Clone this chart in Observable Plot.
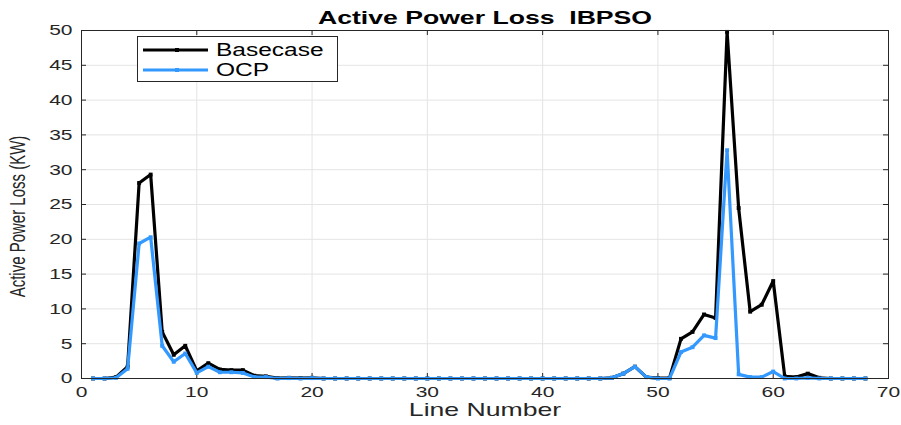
<!DOCTYPE html>
<html><head><meta charset="utf-8">
<script src="https://cdn.jsdelivr.net/npm/d3@7"></script>
<script src="https://cdn.jsdelivr.net/npm/@observablehq/plot@0.6"></script>
<style>
body{margin:0;background:#fff;}
#wrap{position:relative;width:901px;height:425px;font-family:"Liberation Sans",Arial,sans-serif;}
#legend{position:absolute;left:137px;top:36px;}
</style></head><body><div id="wrap"></div>
<script>
const lineNumber = [1,2,3,4,5,6,7,8,9,10,11,12,13,14,15,16,17,18,19,20,21,22,23,24,25,26,27,28,29,30,31,32,33,34,35,36,37,38,39,40,41,42,43,44,45,46,47,48,49,50,51,52,53,54,55,56,57,58,59,60,61,62,63,64,65,66,67,68];
const basecase = [0,0,0.2,1.7,28.1,29.3,6.7,3.4,4.7,1.1,2.2,1.3,1.2,1.2,0.4,0.3,0.05,0.1,0.05,0.1,0,0,0,0,0,0,0,0,0,0,0,0,0,0,0,0,0,0,0,0,0,0,0,0,0,0.1,0.7,1.7,0.2,0.05,0.05,5.7,6.7,9.2,8.7,49.8,24.5,9.6,10.6,14.0,0.3,0.2,0.7,0.1,0,0,0,0];
const ocp = [0,0,0.1,1.4,19.4,20.3,4.7,2.4,3.6,0.8,1.7,0.9,0.9,0.8,0.2,0.2,0,0.05,0,0.05,0,0,0,0,0,0,0,0,0,0,0,0,0,0,0,0,0,0,0,0,0,0,0,0,0,0.1,0.7,1.7,0.2,0,0,3.8,4.5,6.2,5.8,32.8,0.6,0.2,0.2,1.0,0,0,0.1,0,0,0,0,0];
const seriesNames = ["Basecase","OCP"];
const seriesColors = ["#000000","#3399ff"];
const xTicks = [0,10,20,30,40,50,60,70];
const yTicks = [0,5,10,15,20,25,30,35,40,45,50];
const titleText = "Active Power Loss  IBPSO";
const xLabel = "Line Number";
const yLabel = "Active Power Loss (KW)";

const W = 901, H = 425, ML = 81, MR = 13, MT = 30, MB = 47;
const FW = W - ML - MR, FH = H - MT - MB;
const axisColor = "#262626", gridColor = "#e4e4e4";
const series = [basecase, ocp];

const marks = [
  Plot.gridX(xTicks, {stroke: gridColor, strokeOpacity: 1}),
  Plot.gridY(yTicks, {stroke: gridColor, strokeOpacity: 1}),
  Plot.tickX(xTicks, {x: d => d, insetTop: FH - 5, stroke: axisColor}),
  Plot.tickX(xTicks, {x: d => d, insetBottom: FH - 5, stroke: axisColor}),
  Plot.tickY(yTicks, {y: d => d, insetRight: FW - 5, stroke: axisColor}),
  Plot.tickY(yTicks, {y: d => d, insetLeft: FW - 5, stroke: axisColor}),
  Plot.axisX(xTicks, {tickSize: 0, tickPadding: 8, label: null, fontSize: 15, fill: axisColor}),
  Plot.axisY(yTicks, {tickSize: 0, tickPadding: 9, label: null, fontSize: 15, fill: axisColor})
];
series.forEach((vals, k) => {
  marks.push(Plot.line(vals, {x: (d, i) => lineNumber[i], y: d => d, stroke: seriesColors[k], strokeWidth: 3.2, strokeLinejoin: "miter"}));
  marks.push(Plot.dot(vals, {x: (d, i) => lineNumber[i], y: d => d, symbol: "square", r: 2.2, fill: seriesColors[k], stroke: "none"}));
});
marks.push(
  Plot.frame({stroke: axisColor}),
  Plot.text([titleText], {text: d => d, frameAnchor: "top", lineAnchor: "middle", textAnchor: "middle", dy: -13, fontWeight: "bold", fontSize: 19, fill: "#000"}),
  Plot.text([xLabel], {text: d => d, frameAnchor: "bottom", lineAnchor: "middle", textAnchor: "middle", dy: 31, fontSize: 19, fill: axisColor}),
  Plot.text([yLabel], {text: d => d, frameAnchor: "left", lineAnchor: "middle", textAnchor: "middle", dx: -63.5, dy: 12, rotate: -90, fontSize: 15, fill: axisColor})
);

const plot = Plot.plot({
  width: W, height: H, marginLeft: ML, marginRight: MR, marginTop: MT, marginBottom: MB,
  style: {fontFamily: "'Liberation Sans', Arial, sans-serif", fontSize: "15px", color: axisColor, background: "#fff"},
  x: {domain: [0, 70]},
  y: {domain: [0, 50]},
  marks
});
const wrap = document.getElementById("wrap");
wrap.appendChild(plot);

// legend
const lg = d3.select(wrap).append("svg").attr("id", "legend").attr("width", 202).attr("height", 47);
lg.append("rect").attr("x", 0.5).attr("y", 0.5).attr("width", 200).attr("height", 45).attr("fill", "#fff").attr("stroke", axisColor);
seriesNames.forEach((name, k) => {
  const cy = 14 + k * 20;
  lg.append("line").attr("x1", 6).attr("x2", 71).attr("y1", cy).attr("y2", cy).attr("stroke", seriesColors[k]).attr("stroke-width", 3);
  lg.append("rect").attr("x", 38).attr("y", cy - 2).attr("width", 4).attr("height", 4).attr("fill", seriesColors[k]);
  lg.append("text").attr("x", 79).attr("y", cy).attr("dy", "0.35em").attr("font-size", 17.5)
    .attr("font-family", "'Liberation Sans', Arial, sans-serif").attr("fill", "#000").text(name);
});

// horizontal stretch of text, as in the reference picture
const SX = 1.4;
d3.select(wrap).selectAll("text").each(function () {
  const tr = this.getAttribute("transform") || "";
  if (tr.includes("rotate")) {
    this.setAttribute("transform", tr + " scale(1,1.5)");
  } else {
    const len = this.getComputedTextLength();
    if (len > 0) {
      this.setAttribute("textLength", len * SX);
      this.setAttribute("lengthAdjust", "spacingAndGlyphs");
    }
  }
});
</script></body></html>
